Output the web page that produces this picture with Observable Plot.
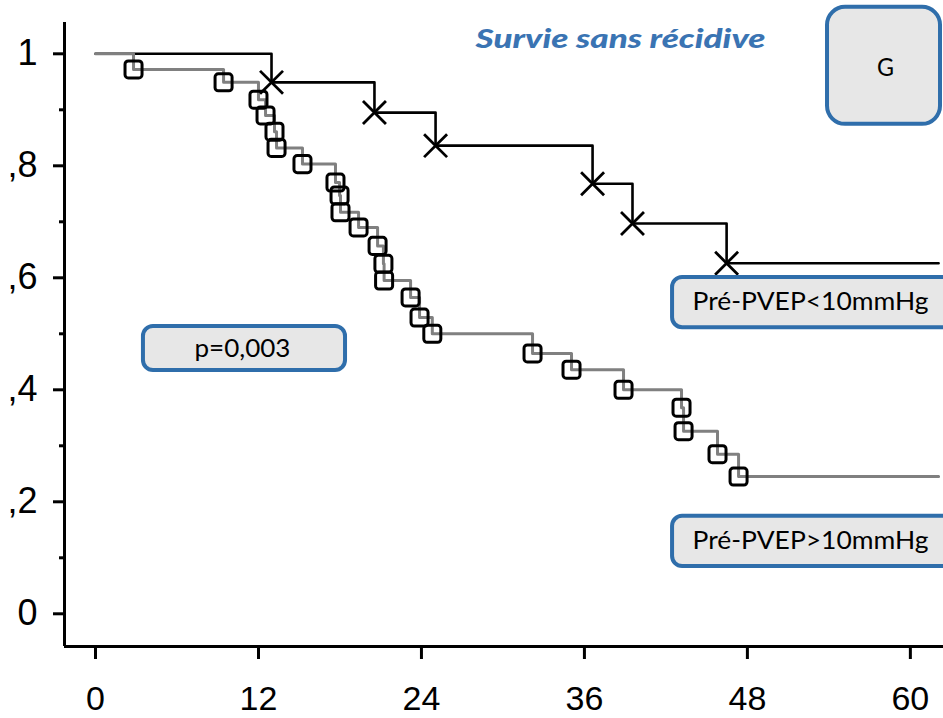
<!DOCTYPE html>
<html>
<head>
<meta charset="utf-8">
<script src="https://cdn.jsdelivr.net/npm/d3@7"></script>
<script src="https://cdn.jsdelivr.net/npm/@observablehq/plot@0.6"></script>
<style>
  html, body { margin: 0; padding: 0; background: #fff; }
  #chart svg { display: block; }
</style>
</head>
<body>
<div id="chart"></div>
<script>
// ---- axis ticks ----
const xTicks = [0, 12, 24, 36, 48, 60];
const yMajor = [0, 0.2, 0.4, 0.6, 0.8, 1];
const yMinor = [0.1, 0.3, 0.5, 0.7, 0.9];
const yLabels = ["0", ",2", ",4", ",6", ",8", "1"];

// ---- Kaplan-Meier: Pré-PVEP<10mmHg (black, × marks) ----
const lowTimes = [12.96, 20.54, 25.04, 36.6, 39.54, 46.47];
const lowSurv  = [0.949, 0.895, 0.836, 0.768, 0.697, 0.626];

// ---- Kaplan-Meier: Pré-PVEP>10mmHg (grey, square marks) ----
const highTimes = [2.8, 9.43, 12.0, 12.52, 13.18, 13.33, 15.24, 17.67, 17.97, 18.04, 19.37, 20.77,
                   21.2, 21.25, 23.2, 23.86, 24.8, 32.18, 35.05, 38.88, 43.15, 43.3, 45.8, 47.35];
const highSurv  = [0.972, 0.949, 0.918, 0.890, 0.861, 0.832, 0.803, 0.770, 0.747, 0.717, 0.690, 0.657,
                   0.625, 0.595, 0.565, 0.529, 0.500, 0.465, 0.436, 0.400, 0.368, 0.326, 0.285, 0.245];

const followUpEnd = 62.08;

// ---- texts ----
const title = "Survie sans récidive";
const pValue = "p=0,003";
const panel = "G";
const lowLabel = "Pré-PVEP<10mmHg";
const highLabel = "Pré-PVEP>10mmHg";

// ---- scale frame ----
const xDomain = [-2.283, 62.44];
const yDomain = [-0.0584, 1.0559];

function curve(times, surv) {
  const pts = [{t: 0, s: 1}];
  times.forEach((t, i) => pts.push({t, s: surv[i]}));
  pts.push({t: followUpEnd, s: surv[surv.length - 1]});
  return pts;
}
const lowCurve = curve(lowTimes, lowSurv);
const highCurve = curve(highTimes, highSurv);
const lowMarks = lowTimes.map((t, i) => ({t, s: lowSurv[i]}));
const highMarks = highTimes.map((t, i) => ({t, s: highSurv[i]}));

// annotation boxes (data coordinates)
const boxes = [
  {x1: 3.53, x2: 18.41, y1: 0.4345, y2: 0.513, rx: 10},
  {x1: 42.49, x2: 63.7, y1: 0.511, y2: 0.6005, rx: 10},
  {x1: 42.49, x2: 63.7, y1: 0.0845, y2: 0.174, rx: 10},
  {x1: 53.9, x2: 62.22, y1: 0.874, y2: 1.083, rx: 18}
];
const boxTexts = [
  {label: pValue, x: 10.82, y: 0.472},
  {label: lowLabel, x: 52.65, y: 0.556},
  {label: highLabel, x: 52.65, y: 0.1295},
  {label: panel, x: 58.17, y: 0.974}
];

const roundedSquare = {
  draw(ctx, size) {
    const s = Math.sqrt(size) / 2, c = s * 0.38;
    ctx.moveTo(-s + c, -s);
    ctx.arcTo(s, -s, s, s, c);
    ctx.arcTo(s, s, -s, s, c);
    ctx.arcTo(-s, s, -s, -s, c);
    ctx.arcTo(-s, -s, s, -s, c);
    ctx.closePath();
  }
};

const boxBlue = "#2f6eab";
const labelFont = "Lato, 'Open Sans', sans-serif";

const chart = Plot.plot({
  width: 943,
  height: 718,
  marginLeft: 64,
  marginRight: 0,
  marginTop: 22,
  marginBottom: 72,
  style: {fontFamily: "'Liberation Sans Narrow', 'Arial Narrow', 'Liberation Sans', sans-serif", fontSize: "36px", color: "black", background: "white"},
  x: {domain: xDomain},
  y: {domain: yDomain},
  marks: [
    // axis lines
    Plot.ruleX([xDomain[0]], {stroke: "black", strokeWidth: 3}),
    Plot.ruleY([yDomain[0]], {stroke: "black", strokeWidth: 3}),
    Plot.axisY(yMinor, {anchor: "left", tickSize: 5, strokeWidth: 3, tickFormat: () => ""}),
    Plot.axisY(yMajor, {anchor: "left", tickSize: 11, tickPadding: 16, strokeWidth: 3,
      tickFormat: d => yLabels[yMajor.indexOf(d)], fontSize: 36}),
    Plot.axisX(xTicks, {anchor: "bottom", tickSize: 13, tickPadding: 26, strokeWidth: 3,
      tickFormat: d => String(d), fontSize: 34}),
    // curves
    Plot.line(lowCurve, {x: "t", y: "s", curve: "step-after", stroke: "black", strokeWidth: 2.6}),
    Plot.line(highCurve, {x: "t", y: "s", curve: "step-after", stroke: "#808080", strokeWidth: 3}),
    Plot.dot(highMarks, {x: "t", y: "s", symbol: roundedSquare, r: 9.6, stroke: "black", strokeWidth: 3, fill: "none"}),
    Plot.dot(lowMarks, {x: "t", y: "s", symbol: "times", r: 10.5, stroke: "black", strokeWidth: 2.8}),
    // annotations
    Plot.rect(boxes, {x1: "x1", x2: "x2", y1: "y1", y2: "y2", rx: 10, fill: "#e7e7e7", stroke: boxBlue, strokeWidth: 4}),
    Plot.text(boxTexts, {x: "x", y: "y", text: "label", fontSize: 25, fontFamily: labelFont, fill: "black"}),
    Plot.text([title], {x: () => 38.66, y: () => 1.0255, text: d => d, fontSize: 26, fontWeight: 900,
      fontStyle: "italic", fontFamily: labelFont, fill: "#3a74b3"})
  ]
});

document.getElementById("chart").appendChild(chart);

// round corners per box and fit label widths
const rects = d3.select(chart).selectAll("rect").filter(function() {
  return this.getAttribute("fill") === "#e7e7e7" || this.parentNode.getAttribute("fill") === "#e7e7e7";
});
rects.each(function(d, i) {
  const b = boxes[i];
  if (b) { this.setAttribute("rx", b.rx); this.setAttribute("ry", b.rx); }
});
const fits = {};
fits[title] = 290; fits[lowLabel] = 236; fits[highLabel] = 236; fits[pValue] = 96; fits[panel] = 17;
d3.select(chart).selectAll("text").each(function() {
  const w = fits[this.textContent];
  if (w) { this.setAttribute("textLength", w); this.setAttribute("lengthAdjust", "spacingAndGlyphs"); }
});
</script>
</body>
</html>
